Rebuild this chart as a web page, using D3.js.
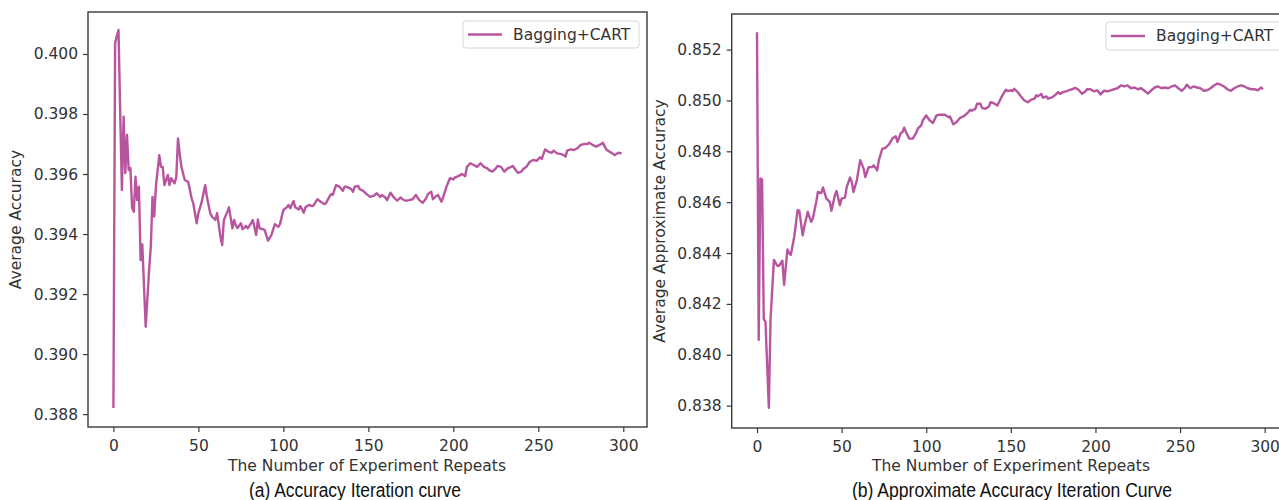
<!DOCTYPE html>
<html>
<head>
<meta charset="utf-8">
<script src="https://cdn.jsdelivr.net/npm/d3@7"></script>
<style>
html,body{margin:0;padding:0;background:#fff;}
svg{display:block;}
</style>
</head>
<body>
<svg id="chart" width="1279" height="500"></svg>
<script>
// ---------- data ----------
const seriesName = "Bagging+CART";
const xTicks = [0, 50, 100, 150, 200, 250, 300];
const aYTicks = [0.388, 0.390, 0.392, 0.394, 0.396, 0.398, 0.400];
const bYTicks = [0.838, 0.840, 0.842, 0.844, 0.846, 0.848, 0.850, 0.852];

const aX = [0,1,2,3,4,5,6,7,8,9,10,11,12,13,14,15,16,17,19,21,22,23,24,25,27,28,29,30,32,33,34,36,37,38,39,40,42,44,46,47,49,50,52,54,55,57,58,60,61,63,64,65,67,68,70,71,72,73,75,76,78,79,81,82,84,85,86,88,89,91,93,95,97,98,100,102,103,104,106,107,109,110,112,113,115,117,118,120,122,124,125,127,128,129,131,133,135,136,138,140,141,142,144,145,147,149,151,153,155,157,158,160,161,163,165,167,169,170,172,174,176,178,180,182,184,185,187,188,190,191,193,194,196,198,200,201,203,205,207,208,210,212,214,216,218,220,221,223,225,226,228,230,232,234,235,237,238,240,241,243,245,247,249,251,252,254,256,258,259,261,263,265,266,267,269,271,273,275,277,279,280,282,284,286,288,290,292,293,295,297,299];
const aY = [0.38820,0.40036,0.40060,0.40080,0.39803,0.39547,0.39791,0.39603,0.39730,0.39613,0.39620,0.39487,0.39474,0.39591,0.39513,0.39558,0.39313,0.39365,0.39091,0.39280,0.39358,0.39524,0.39458,0.39558,0.39663,0.39624,0.39624,0.39563,0.39597,0.39563,0.39586,0.39569,0.39590,0.39719,0.39669,0.39624,0.39580,0.39574,0.39519,0.39502,0.39436,0.39470,0.39508,0.39563,0.39524,0.39469,0.39458,0.39447,0.39470,0.39391,0.39363,0.39447,0.39474,0.39489,0.39419,0.39447,0.39430,0.39420,0.39436,0.39416,0.39427,0.39419,0.39436,0.39447,0.39397,0.39449,0.39419,0.39416,0.39413,0.39378,0.39397,0.39433,0.39424,0.39433,0.39480,0.39489,0.39497,0.39486,0.39510,0.39489,0.39482,0.39493,0.39471,0.39489,0.39497,0.39493,0.39497,0.39516,0.39508,0.39500,0.39502,0.39524,0.39533,0.39530,0.39563,0.39558,0.39544,0.39558,0.39556,0.39549,0.39541,0.39558,0.39560,0.39549,0.39544,0.39533,0.39524,0.39527,0.39536,0.39524,0.39530,0.39522,0.39513,0.39538,0.39522,0.39511,0.39522,0.39516,0.39511,0.39513,0.39516,0.39530,0.39513,0.39504,0.39519,0.39533,0.39541,0.39516,0.39527,0.39530,0.39508,0.39522,0.39558,0.39586,0.39582,0.39589,0.39593,0.39600,0.39593,0.39624,0.39636,0.39630,0.39624,0.39636,0.39624,0.39619,0.39613,0.39608,0.39619,0.39627,0.39624,0.39608,0.39619,0.39624,0.39627,0.39611,0.39604,0.39608,0.39616,0.39624,0.39641,0.39647,0.39644,0.39656,0.39650,0.39682,0.39674,0.39671,0.39678,0.39669,0.39667,0.39663,0.39658,0.39678,0.39682,0.39680,0.39686,0.39697,0.39700,0.39700,0.39704,0.39697,0.39691,0.39697,0.39704,0.39682,0.39674,0.39671,0.39663,0.39671,0.39669];

const bX = [0,1,2,3,4,5,7,8,10,12,13,15,16,18,19,20,22,24,25,27,28,30,32,33,35,36,38,39,41,43,44,46,47,49,50,52,53,55,56,57,59,60,61,63,64,66,68,69,71,72,74,76,78,80,82,83,85,86,87,88,90,92,94,95,97,98,100,102,104,106,108,110,111,113,114,115,116,118,120,122,124,126,127,129,130,132,133,135,137,138,140,142,143,145,147,148,150,151,152,154,156,158,160,162,164,165,166,168,169,171,172,174,176,178,179,181,183,185,187,188,190,192,194,195,197,199,201,203,205,207,209,211,213,215,217,219,221,223,225,227,229,231,233,235,237,239,241,243,245,247,249,251,253,254,256,258,260,262,264,266,268,270,272,274,276,278,280,282,284,286,288,290,292,294,296,298,299];
const bY = [0.85268,0.84059,0.84693,0.84690,0.84140,0.84130,0.83791,0.84140,0.84373,0.84350,0.84350,0.84370,0.84275,0.84414,0.84400,0.84393,0.84464,0.84569,0.84566,0.84470,0.84505,0.84562,0.84523,0.84536,0.84601,0.84640,0.84636,0.84658,0.84614,0.84601,0.84566,0.84627,0.84644,0.84588,0.84614,0.84618,0.84659,0.84697,0.84680,0.84640,0.84686,0.84727,0.84765,0.84732,0.84699,0.84738,0.84738,0.84745,0.84725,0.84765,0.84810,0.84814,0.84827,0.84850,0.84859,0.84837,0.84872,0.84876,0.84893,0.84876,0.84850,0.84850,0.84872,0.84889,0.84902,0.84922,0.84941,0.84922,0.84911,0.84941,0.84944,0.84944,0.84944,0.84935,0.84937,0.84922,0.84906,0.84915,0.84932,0.84937,0.84948,0.84963,0.84960,0.84967,0.84987,0.84987,0.84971,0.84967,0.84976,0.84993,0.84989,0.84980,0.84993,0.85020,0.85042,0.85037,0.85040,0.85037,0.85046,0.85033,0.85016,0.85000,0.84993,0.85003,0.85007,0.85020,0.85016,0.85026,0.85011,0.85016,0.85007,0.85011,0.85020,0.85033,0.85026,0.85033,0.85037,0.85042,0.85046,0.85050,0.85042,0.85026,0.85035,0.85044,0.85044,0.85036,0.85040,0.85024,0.85038,0.85036,0.85040,0.85044,0.85048,0.85059,0.85055,0.85059,0.85048,0.85051,0.85044,0.85048,0.85038,0.85027,0.85040,0.85051,0.85055,0.85048,0.85051,0.85048,0.85055,0.85059,0.85048,0.85038,0.85051,0.85062,0.85048,0.85055,0.85051,0.85048,0.85038,0.85040,0.85048,0.85059,0.85066,0.85062,0.85055,0.85044,0.85038,0.85048,0.85055,0.85059,0.85055,0.85048,0.85044,0.85044,0.85040,0.85051,0.85044];

const panels = [
  {xs: aX, ys: aY, yTicks: aYTicks, yLabel: "Average Accuracy",
   caption: "(a) Accuracy Iteration curve"},
  {xs: bX, ys: bY, yTicks: bYTicks, yLabel: "Average Approximate Accuracy",
   caption: "(b) Approximate Accuracy Iteration Curve"}
];

// ---------- layout ----------
const layout = [
  {left: 88, right: 647, top: 12, bottom: 427, yDomain: [0.38757, 0.40140],
   yLabelX: 16, xLabelX: 367, capX: 355, capW: 212,
   legend: {x: 463, y: 21, w: 176, h: 27}},
  {left: 731.7, right: 1288.3, top: 14, bottom: 428, yDomain: [0.83712, 0.85340],
   yLabelX: 660, xLabelX: 1011, capX: 1012, capW: 320,
   legend: {x: 1106, y: 22, w: 182, h: 28}}
];
const lineColor = "#b8559f";
const axisColor = "#3a3a3a";
const textColor = "#333";
const font = "'DejaVu Sans', Verdana, sans-serif";
const fs = "15.5px";

const svg = d3.select("#chart");

panels.forEach((p, i) => {
  const L = layout[i];
  const x = d3.scaleLinear().domain([-14.95, 313.95]).range([L.left, L.right]);
  const y = d3.scaleLinear().domain(L.yDomain).range([L.bottom, L.top]);
  const g = svg.append("g");

  // x axis
  const xa = g.append("g").attr("transform", `translate(0,${L.bottom})`)
    .call(d3.axisBottom(x).tickValues(xTicks).tickSize(5).tickPadding(5).tickFormat(d3.format("d")));
  // y axis
  const ya = g.append("g").attr("transform", `translate(${L.left},0)`)
    .call(d3.axisLeft(y).tickValues(p.yTicks).tickSize(5).tickPadding(5).tickFormat(d3.format(".3f")));
  [xa, ya].forEach(a => {
    a.select(".domain").remove();
    a.selectAll(".tick line").attr("stroke", axisColor).attr("stroke-width", 1.2);
    a.selectAll(".tick text").attr("fill", textColor)
      .style("font-family", font).style("font-size", fs);
  });
  xa.selectAll(".tick text").attr("dy", "0.9em");

  // frame
  g.append("rect")
    .attr("x", L.left).attr("y", L.top)
    .attr("width", L.right - L.left).attr("height", L.bottom - L.top)
    .attr("fill", "none").attr("stroke", axisColor).attr("stroke-width", 1.4);

  // line
  const data = p.xs.map((d, k) => [d, p.ys[k]]);
  g.append("path").datum(data)
    .attr("fill", "none").attr("stroke", lineColor).attr("stroke-width", 2.4)
    .attr("stroke-linejoin", "round")
    .attr("d", d3.line().x(d => x(d[0])).y(d => y(d[1])));

  // legend
  const lg = g.append("g");
  lg.append("rect").attr("x", L.legend.x).attr("y", L.legend.y)
    .attr("width", L.legend.w).attr("height", L.legend.h).attr("rx", 3)
    .attr("fill", "#fff").attr("fill-opacity", 0.9).attr("stroke", "#d6d6d6").attr("stroke-width", 1);
  const ly = L.legend.y + L.legend.h / 2;
  lg.append("line").attr("x1", L.legend.x + 5).attr("x2", L.legend.x + 39)
    .attr("y1", ly).attr("y2", ly).attr("stroke", lineColor).attr("stroke-width", 2.4);
  lg.append("text").attr("x", L.legend.x + 50).attr("y", ly).attr("dy", "0.35em")
    .attr("fill", textColor).style("font-family", font).style("font-size", fs)
    .text(seriesName);

  // axis labels
  g.append("text").attr("x", L.xLabelX).attr("y", 471)
    .attr("text-anchor", "middle").attr("fill", textColor)
    .style("font-family", font).style("font-size", fs)
    .text("The Number of Experiment Repeats");
  const cy = (L.top + L.bottom) / 2;
  g.append("text").attr("transform", `translate(${L.yLabelX},${cy}) rotate(-90)`)
    .attr("text-anchor", "middle").attr("dy", "0.35em").attr("fill", textColor)
    .style("font-family", font).style("font-size", fs)
    .text(p.yLabel);

  // caption (condensed look)
  g.append("text").attr("x", L.capX).attr("y", 497)
    .attr("text-anchor", "middle").attr("fill", "#111")
    .attr("textLength", L.capW).attr("lengthAdjust", "spacingAndGlyphs")
    .style("font-family", "'Liberation Sans Narrow', 'Arial Narrow', 'Liberation Sans', sans-serif")
    .style("font-size", "20px")
    .text(p.caption);
});
</script>
</body>
</html>
